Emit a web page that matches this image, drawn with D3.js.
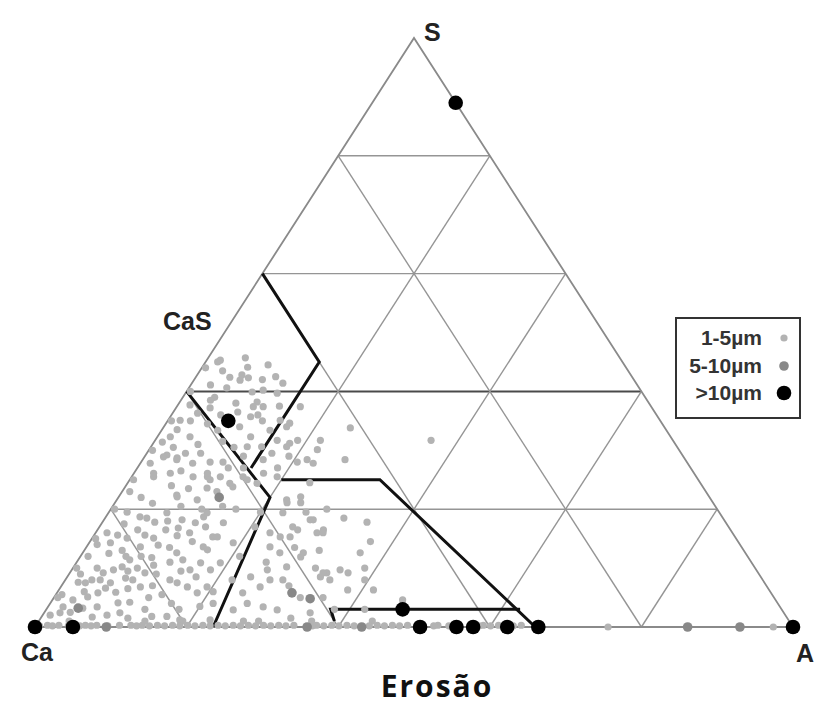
<!DOCTYPE html>
<html>
<head>
<meta charset="utf-8">
<script src="https://cdn.jsdelivr.net/npm/d3@7"></script>
<style>
  html, body { margin: 0; padding: 0; background: #fff; }
  svg { display: block; }
</style>
</head>
<body>
<svg id="chart" width="814" height="706"></svg>
<script>
// Ternary composition data, in percent: [A, S]; Ca = 100 - A - S.
const gridLevels = [20, 40, 60, 80];

const vertexNames = ["S", "Ca", "A"];
const sideLabel = "CaS";
const axisTitle = "Erosão";
const sizeClasses = ["1-5µm", "5-10µm", ">10µm"];

const fineParticles = [
  [2.4,19.5],[4.5,18.7],[6.9,17.8],[7.7,19.4],[10.3,18.2],[7.5,22.4],[12.3,17.7],[12.9,18.7],
  [3.1,15.6],[4.6,15.1],[5.3,16.5],[6.7,15.6],[8.1,15.1],[9.3,13.9],[7.1,13.6],[2.8,14.3],
  [12.4,16.0],[15.4,13.6],[15.8,15.3],[12.4,12.6],[13.8,11.4],[12.3,11.0],[15.6,9.7],[16.4,10.9],
  [3.2,10.0],[4.4,9.2],[5.5,9.7],[6.4,10.2],[6.8,11.4],[8.5,10.0],[9.9,9.2],[10.4,10.5],
  [1.9,7.6],[2.9,7.5],[3.5,8.0],[4.6,8.0],[6.2,7.5],[7.8,8.3],[8.9,8.0],[13.8,8.0],
  [15.0,7.5],[16.7,6.8],[18.5,5.8],[7.7,5.9],[5.4,5.8],[4.4,5.1],[2.7,4.6],[2.0,3.4],
  [2.1,2.4],[3.4,2.5],[4.7,3.2],[6.5,3.4],[8.9,4.1],[10.4,4.2],[6.7,1.7],[8.5,2.0],[10.0,2.4],
  [1.6,45.0],[4.9,45.7],[6.0,44.1],[8.5,44.5],[4.5,42.4],[6.1,41.9],[7.0,42.3],[2.6,41.1],
  [5.0,40.6],[8.7,39.9],[4.2,39.0],[10.2,38.2],[11.4,37.4],[1.6,37.7],[3.3,36.3],[1.6,35.1],
  [4.5,37.2],[7.4,33.4],[10.0,34.0],[10.6,35.7],[11.4,36.0],[12.3,32.3],[12.7,30.6],[14.6,30.6],
  [1.7,32.3],[4.3,32.3],[2.8,29.2],[4.4,28.7],[5.1,29.5],[7.1,29.5],[9.1,28.0],[10.8,28.0],
  [10.0,25.5],[8.1,25.5],[2.6,26.1],[4.8,26.1],[1.3,27.8],[1.1,31.4],[14.8,35.1],[16.2,34.0],
  [14.3,33.4],[16.1,31.7],[18.0,31.2],[16.3,37.4],[17.1,26.1],[19.2,25.5],[20.6,28.0],[21.7,28.4],
  [10.0,40.2],[12.1,39.7],[12.0,41.4],
  [2.5,28.9],[4.5,28.4],[6.9,27.8],[9.7,26.1],[11.7,25.5],[2.9,25.5],[7.7,22.1],[10.6,21.6],
  [10.9,23.6],[14.2,23.8],[15.5,25.0],[17.1,24.4],[15.9,28.4],
  [10.6,25.0],[13.5,24.4],[14.7,25.5],[13.0,19.4],[16.0,17.7],[16.4,15.3],[16.2,13.1],[19.0,14.3],
  [19.0,10.9],[18.3,9.7],[19.3,6.8],[24.7,2.9],[24.5,5.8],[24.2,8.5],[25.8,9.7],[26.3,6.8],
  [27.0,8.0],[28.4,3.4],[30.5,2.9],[28.7,8.0],[26.0,12.6],[24.2,13.6],[26.4,16.5],[26.0,15.3],
  [27.2,18.2],[29.2,16.0],[29.8,16.5],[24.5,21.1],[22.4,21.6],[23.0,19.4],[33.4,8.5],[33.9,9.2],
  [35.4,9.7],[35.1,2.4],[38.1,6.3],[29.1,11.9],[24.7,15.3],
  [16.3,34.6],[18.8,31.7],[17.9,30.6],[21.8,31.7],[22.2,30.1],[22.8,27.8],[24.7,33.8],[26.7,28.4],
  [24.0,22.1],[22.7,21.1],[27.6,18.2],[30.0,16.0],[25.5,17.0],[29.1,12.6],[34.9,17.8],[36.6,12.6],
  [36.7,9.2],[33.4,9.2],[34.9,8.0],[41.5,6.3],[38.5,10.0],[46.2,4.6],[28.1,10.2],[36.4,31.7],
  [1.8,45.3],[5.9,42.8],[10.1,37.4],[3.9,38.5],
  // lower Ca corner
  [1,12],[1.5,16],[3.5,12.5],[5,13],[6,12],[8,12],[9.5,11.8],[11,13.5],[11,15.5],[13.5,14.5],
  [14,17],[9,16.5],[10.5,16.8],[8.5,18],[5.5,18.5],[3,17.5],[1.5,9],[0.8,5.5],[1.2,14],[6,6.6],
  [9,6.5],[10.5,6.8],[12,7],[12.5,5],[14,5.5],[16,4],[17.5,3],[13,3],[11.5,1.5],[14.5,1.8],
  [16.5,1.8],[18.5,1.2],[20,3.5],[20.5,6],[17,8.5],[14.5,9.5],[11.5,9],[7.5,9.5],[3.5,6],[1,2],
  [12,20],[14.5,20.5],[16.5,20],[9,20.5],[5,21],[3,22],[1,23],[6,24],[8.5,23.5],[12.5,23],
  // upper part of the cloud
  [2,33.5],[3,35],[5.5,34.5],[6.5,36],[8.5,36.5],[9,31.5],[11,30.5],[13,29],[14,27],[12,27],
  [6,31],[3,30.5],[7.5,38],[9,42],[10.5,42.5],[3,43.5],[12.5,35],[13.5,37.5],[6,26.5],[16.5,29.5],
  [19,29],[18.5,27],
  // along the Ca-S side
  [0.5,20],[0.5,25],[0.5,30],[0.5,35],[0.5,40],[0.5,44],[0.5,15],[0.5,10],[0.5,5],
  // between the boundaries, low S
  [21,12],[22,8],[21.5,4],[23,16],[20.5,17],[25,11],[27.5,13.5],[31,13],[32,10],[30,7],
  [32.5,5],[26,4],[22.5,1.2],[29,1],[33,1.5],[31.5,18.5],[28.5,20],[26,19.5],[24,24.5],[20,19.5],
  [37,14.5],[39.5,8],[42,3],[35.5,5],[38,3],
  // Ca-A side
  [1.5,0.3],[3,0.3],[6.5,0.3],[8,0.3],[11,0.3],[12.5,0.3],[14,0.3],[16,0.3],[18,0.3],[20,0.3],
  [22,0.3],[24,0.3],[26,0.3],[28,0.3],[30,0.3],[32,0.3],[34,0.3],[37,0.3],[39,0.3],[41,0.3],
  [45,0.3],[47,0.3],[49,0.3],[53,0.3],[59,0.3],[61,0.3],[64,0.3],[75.6,0],[97.4,0],
  [4,1],[14,1],[19,1],[27,1],[36,1],[44,1],
  [0.5,0.2],[2.2,0.2],[4.3,0.2],[5.8,0.2],[7.3,0.2],[9.5,0.2],[13.3,0.2],[15,0.2],[17,0.2],[19,0.2],
  [21,0.2],[23,0.2],[25,0.2],[27,0.2],[29,0.2],[31,0.2],[33,0.2],[36.5,0.2],[38,0.2],[40,0.2],
  [42,0.2],[44,0.2],[46,0.2],[48,0.2],[52.5,0.2],[54.5,0.2],[58.5,0.2],[60,0.2],[63,0.2]
];

const mediumParticles = [
  [4.1,3.2],[13.3,22.0],[31.0,5.8],[33.9,4.8],[9.4,0],[35.9,0],[43.1,0],[86.1,0],[93.0,0]
];

const coarseParticles = [
  [11,89],[8,35],[47,3],[0,0],[5,0],[50.8,0],[55.6,0],[57.8,0],[62.3,0],[66.4,0],[100,0]
];

// Field boundaries drawn as heavy polylines, also in [A, S] percent.
const fieldBoundaries = [
  [[0,60],[15,45],[15,27]],
  [[0,40],[20,22],[23.5,0]],
  [[20,25],[33,25],[66,0]],
  [[39,1],[37.5,3],[62.5,3]]
];

const svg = d3.select("#chart");

// Horizontal scale carries A + S/2, vertical scale carries S.
const xScale = d3.scaleLinear().domain([0, 100]).range([35, 793]);
const yScale = d3.scaleLinear().domain([0, 100]).range([627, 38]);
const project = ([a, s]) => [xScale(a + s / 2), yScale(s)];
const line = d3.line().x(d => project(d)[0]).y(d => project(d)[1]);

const grid = svg.append("g").attr("fill", "none");

// Lines of constant S (horizontal)
gridLevels.forEach(v => {
  grid.append("path")
    .attr("d", line([[0, v], [100 - v, v]]))
    .attr("stroke", v === 40 ? "#4a4a4a" : "#959595")
    .attr("stroke-width", v === 40 ? 2 : 1.4);
});
// Lines of constant A
gridLevels.forEach(v => {
  grid.append("path")
    .attr("d", line([[v, 0], [v, 100 - v]]))
    .attr("stroke", "#959595").attr("stroke-width", 1.4);
});
// Lines of constant Ca
gridLevels.forEach(v => {
  grid.append("path")
    .attr("d", line([[100 - v, 0], [0, 100 - v]]))
    .attr("stroke", "#959595").attr("stroke-width", 1.4);
});
// Triangle outline
grid.append("path")
  .attr("d", line([[0, 0], [100, 0], [0, 100], [0, 0]]))
  .attr("stroke", "#8a8a8a").attr("stroke-width", 1.8);

// Field boundaries
svg.append("g").selectAll("path")
  .data(fieldBoundaries).join("path")
  .attr("d", line)
  .attr("fill", "none")
  .attr("stroke", "#111")
  .attr("stroke-width", 3)
  .attr("stroke-linejoin", "miter");

// Particles
const layers = [
  { data: fineParticles, r: 3.6, fill: "#b3b3b3" },
  { data: mediumParticles, r: 4.8, fill: "#888" },
  { data: coarseParticles, r: 7.3, fill: "#000" }
];
layers.forEach(layer => {
  svg.append("g").selectAll("circle")
    .data(layer.data).join("circle")
    .attr("cx", d => project(d)[0])
    .attr("cy", d => project(d)[1])
    .attr("r", layer.r)
    .attr("fill", layer.fill);
});

// Vertex labels
const labelFont = "'Liberation Sans', Arial, sans-serif";
const labels = [
  { text: vertexNames[0], x: 424, y: 41 },
  { text: vertexNames[1], x: 21, y: 661 },
  { text: vertexNames[2], x: 796, y: 662 },
  { text: sideLabel, x: 163, y: 330 }
];
svg.append("g").selectAll("text")
  .data(labels).join("text")
  .attr("x", d => d.x).attr("y", d => d.y)
  .attr("font-family", labelFont)
  .attr("font-weight", "bold")
  .attr("font-size", 25)
  .attr("fill", "#222")
  .text(d => d.text);

svg.append("text")
  .attr("x", 437).attr("y", 697)
  .attr("text-anchor", "middle")
  .attr("font-family", "'Open Sans', sans-serif")
  .attr("font-weight", "bold")
  .attr("font-size", 30)
  .attr("letter-spacing", 2)
  .attr("fill", "#111")
  .text(axisTitle);

// Legend
const legend = svg.append("g");
legend.append("rect")
  .attr("x", 676).attr("y", 318).attr("width", 124).attr("height", 100)
  .attr("fill", "#fff").attr("stroke", "#333").attr("stroke-width", 2);
const legendRows = [338, 366, 393];
sizeClasses.forEach((name, i) => {
  legend.append("text")
    .attr("x", 762).attr("y", legendRows[i] + 7)
    .attr("text-anchor", "end")
    .attr("font-family", "'Liberation Sans Narrow', 'Liberation Sans', Arial, sans-serif")
    .attr("font-weight", "bold")
    .attr("font-size", 21)
    .attr("fill", "#333")
    .text(name);
  legend.append("circle")
    .attr("cx", 784).attr("cy", legendRows[i])
    .attr("r", layers[i].r)
    .attr("fill", layers[i].fill);
});
</script>
</body>
</html>
